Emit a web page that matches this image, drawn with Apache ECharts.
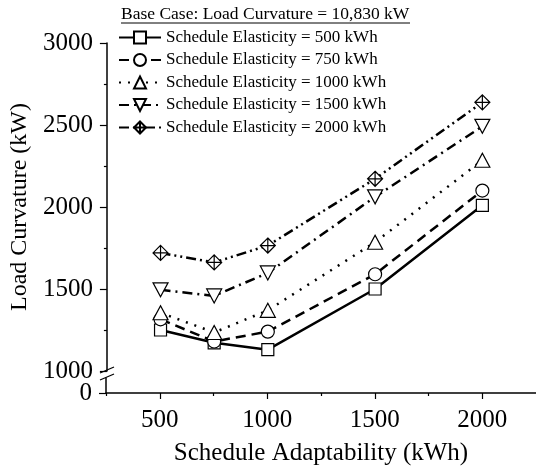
<!DOCTYPE html>
<html>
<head>
<meta charset="utf-8">
<script src="https://cdn.jsdelivr.net/npm/echarts@6/dist/echarts.min.js"></script>
<style>
  html, body { margin: 0; padding: 0; background: #fff; }
  #chart { width: 536px; height: 469px; }
</style>
</head>
<body>
<div id="chart"></div>
<script>
// values
const xValues = [500, 750, 1000, 1500, 2000]
const s500 = [1250, 1172, 1130, 1500, 2010]
const s750 = [1315, 1180, 1240, 1590, 2100]
const s1000 = [1355, 1235, 1370, 1785, 2285]
const s1500 = [1495, 1458, 1598, 2062, 2492]
const s2000 = [1720, 1662, 1765, 2172, 2638]
const seriesNames = [
  'Schedule Elasticity = 500 kWh',
  'Schedule Elasticity = 750 kWh',
  'Schedule Elasticity = 1000 kWh',
  'Schedule Elasticity = 1500 kWh',
  'Schedule Elasticity = 2000 kWh'
]
const xLabels = [500, 1000, 1500, 2000]
const xMinorTicks = [250, 750, 1250, 1750]
const titleText = 'Base Case: Load Curvature = 10,830 kW'

const FONT = 'Liberation Serif'
const diamondCross = 'path://M0,-10 L10,0 L0,10 L-10,0 Z M0,-10 L0,10 M-10,0 L10,0'
const plain = v => String(v)

function pairs(ys) {
  return xValues.map((x, i) => [x, ys[i]])
}

function makeSeries(name, ys, symbol, size, rotate, dash) {
  return {
    name: name,
    type: 'line',
    xAxisIndex: 0,
    yAxisIndex: 0,
    data: pairs(ys),
    symbol: symbol,
    symbolSize: size,
    symbolRotate: rotate,
    showAllSymbol: true,
    animation: false,
    itemStyle: { color: '#fff', borderColor: '#000', borderWidth: 1.2 },
    lineStyle: { color: '#000', width: 2.5, type: dash }
  }
}

const chart = echarts.init(document.getElementById('chart'))

chart.setOption({
  backgroundColor: '#fff',
  textStyle: { fontFamily: FONT },
  title: {
    text: titleText,
    left: 121,
    top: 5,
    padding: 0,
    textStyle: { fontFamily: FONT, fontSize: 17.5, fontWeight: 'normal', color: '#000' }
  },
  legend: {
    orient: 'vertical',
    left: 118,
    top: 29,
    padding: 0,
    itemWidth: 42,
    itemHeight: 15,
    itemGap: 5.5,
    textStyle: { fontFamily: FONT, fontSize: 17, color: '#000' },
    data: seriesNames
  },
  graphic: [
    { type: 'line', shape: { x1: 121, y1: 23, x2: 410, y2: 23 }, style: { stroke: '#000', lineWidth: 1 } },
    { type: 'line', shape: { x1: 100, y1: 373, x2: 114, y2: 367 }, style: { stroke: '#000', lineWidth: 1.2 } },
    { type: 'line', shape: { x1: 100, y1: 380, x2: 114, y2: 374 }, style: { stroke: '#000', lineWidth: 1.2 } }
  ],
  grid: [
    { left: 106, right: 0, top: 43, height: 328 },
    { left: 106, right: 0, top: 378, height: 15 },
    { left: 106, right: 0, top: 378, height: 15 }
  ],
  xAxis: [
    { type: 'value', gridIndex: 0, min: 250, max: 2250, show: false },
    {
      type: 'value', gridIndex: 1, min: 250, max: 2250,
      name: 'Schedule Adaptability (kWh)',
      nameLocation: 'middle',
      nameGap: 48,
      nameTextStyle: { fontFamily: FONT, fontSize: 25, color: '#000' },
      axisLine: { lineStyle: { color: '#000', width: 1.5 } },
      axisTick: { customValues: xLabels, length: 6, lineStyle: { color: '#000', width: 1.2 } },
      axisLabel: { customValues: xLabels, formatter: plain, margin: 15, fontFamily: FONT, fontSize: 25, color: '#000' },
      splitLine: { show: false }
    },
    {
      type: 'value', gridIndex: 2, min: 250, max: 2250,
      axisLine: { show: false },
      axisTick: { customValues: xMinorTicks, length: 3, lineStyle: { color: '#000', width: 1.2 } },
      axisLabel: { show: false },
      splitLine: { show: false }
    }
  ],
  yAxis: [
    {
      type: 'value', gridIndex: 0, min: 1000, max: 3000, interval: 500,
      name: 'Load Curvature (kW)',
      nameLocation: 'middle',
      nameGap: 74,
      nameTextStyle: { fontFamily: FONT, fontSize: 24, color: '#000' },
      axisLine: { show: true, lineStyle: { color: '#000', width: 1.5 } },
      axisTick: { show: true, length: 7, lineStyle: { color: '#000', width: 1.2 } },
      minorTick: { show: true, splitNumber: 2, length: 3, lineStyle: { color: '#000', width: 1.2 } },
      axisLabel: { formatter: plain, margin: 14, fontFamily: FONT, fontSize: 25, color: '#000' },
      splitLine: { show: false }
    },
    {
      type: 'value', gridIndex: 1, min: 0, max: 100,
      axisLine: { show: true, lineStyle: { color: '#000', width: 1.5 } },
      axisTick: { show: true, customValues: [0], length: 7, lineStyle: { color: '#000', width: 1.2 } },
      axisLabel: { customValues: [0], formatter: plain, margin: 14, fontFamily: FONT, fontSize: 25, color: '#000' },
      splitLine: { show: false }
    },
    { type: 'value', gridIndex: 2, min: 0, max: 100, show: false }
  ],
  series: [
    makeSeries(seriesNames[0], s500, 'rect', 12, 0, 'solid'),
    makeSeries(seriesNames[1], s750, 'circle', 13, 0, [10, 6]),
    makeSeries(seriesNames[2], s1000, 'triangle', [15, 14], 0, [2, 7]),
    makeSeries(seriesNames[3], s1500, 'triangle', [15, 14], 180, [10, 5, 2, 5]),
    makeSeries(seriesNames[4], s2000, diamondCross, 15, 0, [10, 4, 2, 4, 2, 4])
  ]
})
</script>
</body>
</html>
